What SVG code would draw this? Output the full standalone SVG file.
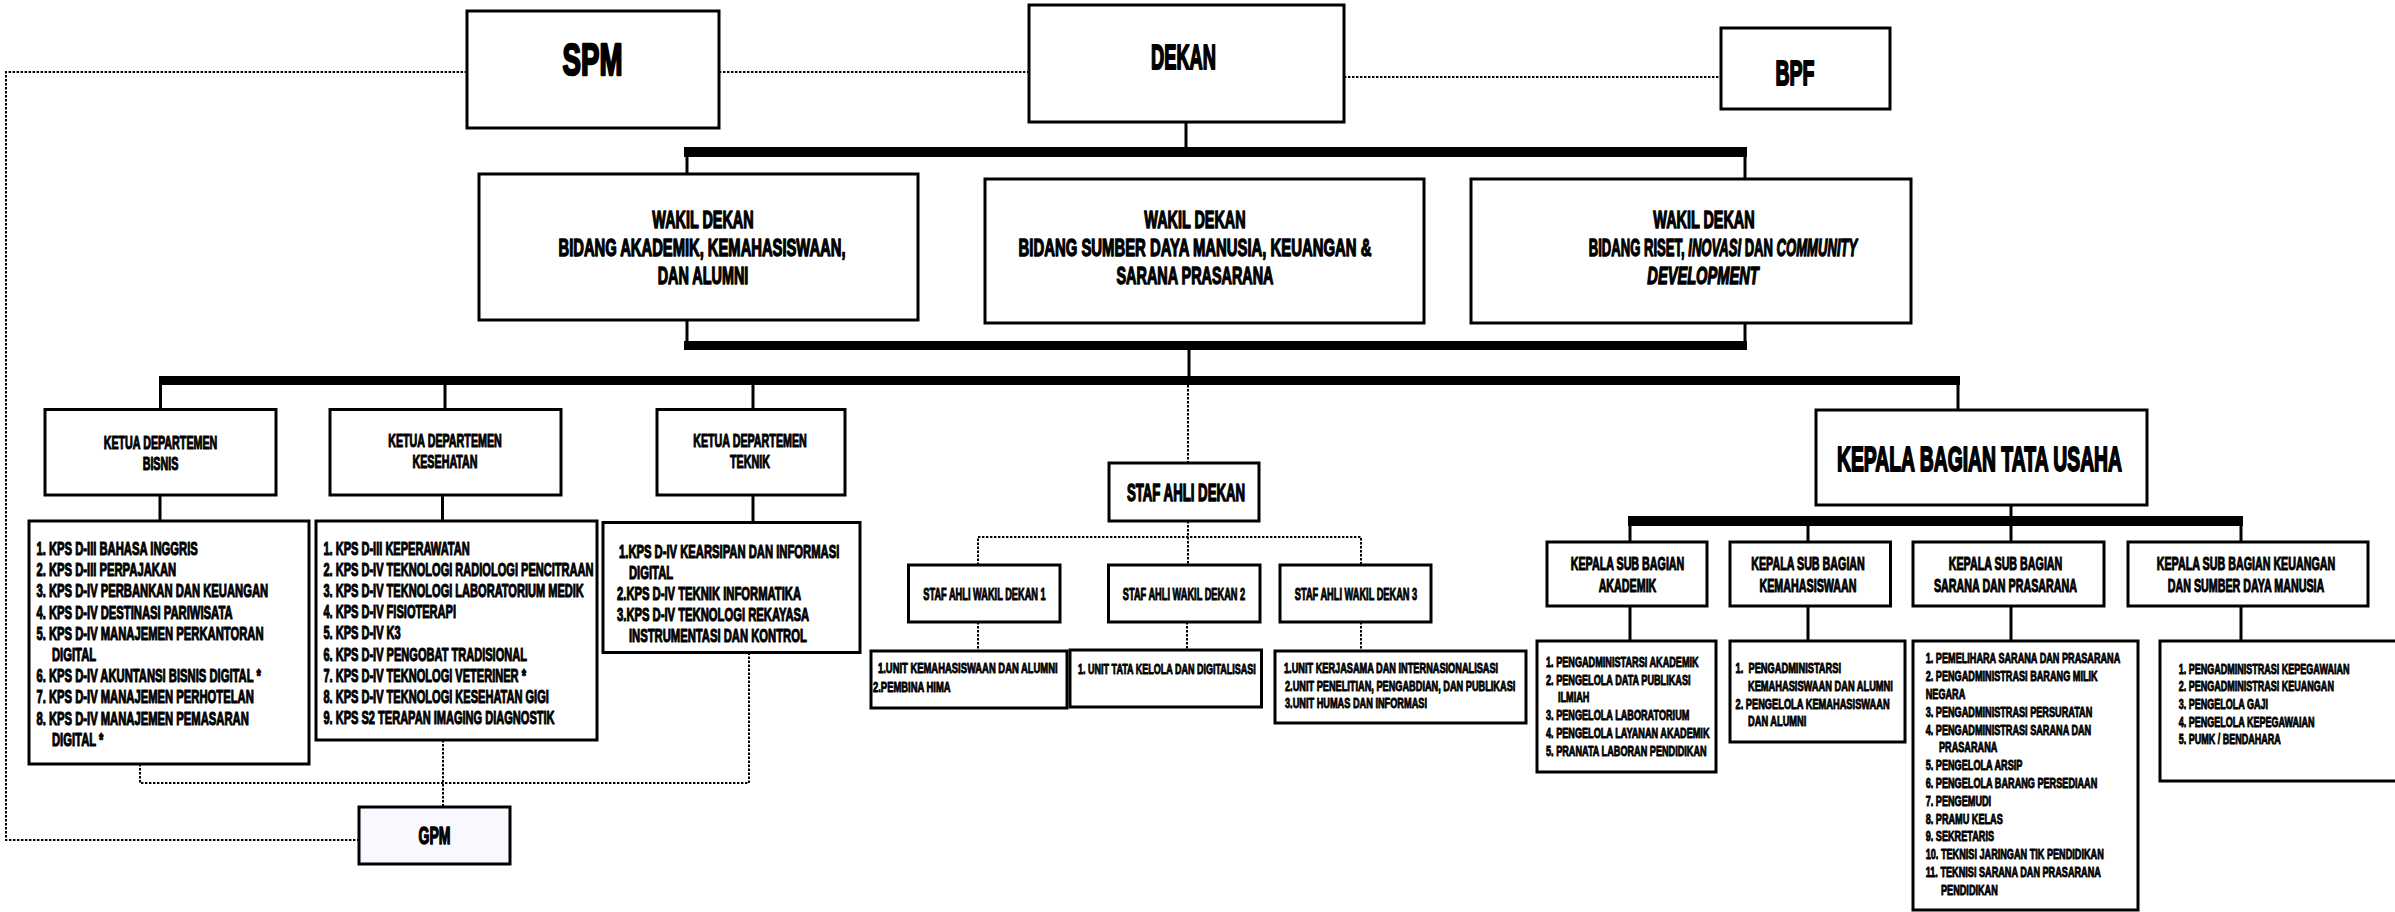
<svg xmlns="http://www.w3.org/2000/svg" width="2395" height="912" viewBox="0 0 2395 912">
<style>
.box{fill:#fff;stroke:#000;stroke-width:3}
.t{font-family:"Liberation Sans",Arial,sans-serif;font-weight:bold;fill:#000;stroke:#000;stroke-linejoin:round}
.m{text-anchor:middle}
.dot{fill:none;stroke:#000;stroke-width:2;stroke-dasharray:2.4 1.6}
.ln{fill:none;stroke:#000;stroke-width:3}
.bar{fill:#000}
.i{font-style:italic}
</style>
<rect width="2395" height="912" fill="#fff"/>
<g id="connectors">
<rect class="bar" x="684" y="147" width="1063" height="10"/>
<rect class="bar" x="684" y="341" width="1063" height="9"/>
<rect class="bar" x="159" y="376" width="1801" height="9"/>
<rect class="bar" x="1628" y="516" width="615" height="10"/>
<path class="ln" d="M1186 122V147M687 157V174M1745 157V179M687 320V341M1745 323V341M1189 350V376M160.5 385V409.5M445 385V409.5M753 385V409.5M1958 385V410M160 495V521M442.5 495V521M753 495V522.5M2011 505V516M1630 526V542M1808 526V542M2011 526V542M2241 526V542M1630 606V641M1808 606V641M2011 606V641M2241 606V641"/>
<path class="dot" d="M467 72H6V840H359M719 72H1029M1344 77H1721M1188 385V463M1188 521V565M978 565V537H1361V565M978 622V651M1187 622V650M1361 622V651M140 764V783H749V652M443 740V807"/>
</g>
<g id="spm"><rect class="box" x="467" y="11" width="252" height="117"/>
<text class="t m" font-size="43.5" stroke-width="2.4" transform="translate(592.5,75) scale(0.636,1)">SPM</text></g>
<g id="dekan"><rect class="box" x="1029" y="5" width="315" height="117"/>
<text class="t m" font-size="34.8" stroke-width="2" transform="translate(1183.5,69) scale(0.525,1)">DEKAN</text></g>
<g id="bpf"><rect class="box" x="1721" y="28" width="169" height="81"/>
<text class="t m" font-size="34.8" stroke-width="2" transform="translate(1795,85) scale(0.56,1)">BPF</text></g>
<g id="wd1"><rect class="box" x="479" y="174" width="439" height="146"/>
<g class="t m" font-size="24" stroke-width="1.4">
<text transform="translate(703,227.7) scale(0.6,1)">WAKIL DEKAN</text>
<text transform="translate(702,256) scale(0.615,1)">BIDANG AKADEMIK, KEMAHASISWAAN,</text>
<text transform="translate(703,284.3) scale(0.6,1)">DAN ALUMNI</text></g></g>
<g id="wd2"><rect class="box" x="985" y="179" width="439" height="144"/>
<g class="t m" font-size="24" stroke-width="1.4">
<text transform="translate(1195,227.7) scale(0.6,1)">WAKIL DEKAN</text>
<text transform="translate(1195,256) scale(0.62,1)">BIDANG SUMBER DAYA MANUSIA, KEUANGAN &amp;</text>
<text transform="translate(1195,284.3) scale(0.6,1)">SARANA PRASARANA</text></g></g>
<g id="wd3"><rect class="box" x="1471" y="179" width="440" height="144"/>
<g class="t m" font-size="24" stroke-width="1.4">
<text transform="translate(1704,227.7) scale(0.6,1)">WAKIL DEKAN</text>
<text transform="translate(1723,256) scale(0.545,1)">BIDANG RISET, <tspan class="i">INOVASI</tspan> DAN <tspan class="i">COMMUNITY</tspan></text>
<text class="i" transform="translate(1703,284.3) scale(0.61,1)">DEVELOPMENT</text></g></g>
<g id="ketua-bisnis"><rect class="box" x="45" y="409.5" width="231" height="85.5"/>
<g class="t m" font-size="18.8" stroke-width="1.1">
<text transform="translate(160.5,449) scale(0.57,1)">KETUA DEPARTEMEN</text>
<text transform="translate(160.5,470) scale(0.57,1)">BISNIS</text></g></g>
<g id="ketua-kesehatan"><rect class="box" x="330" y="409.5" width="231" height="85.5"/>
<g class="t m" font-size="18.8" stroke-width="1.1">
<text transform="translate(445,447) scale(0.57,1)">KETUA DEPARTEMEN</text>
<text transform="translate(445,468) scale(0.57,1)">KESEHATAN</text></g></g>
<g id="ketua-teknik"><rect class="box" x="657" y="409.5" width="188" height="85.5"/>
<g class="t m" font-size="18.8" stroke-width="1.1">
<text transform="translate(750,447) scale(0.57,1)">KETUA DEPARTEMEN</text>
<text transform="translate(750,468) scale(0.57,1)">TEKNIK</text></g></g>
<g id="prodi-bisnis"><rect class="box" x="29" y="521" width="280" height="243"/>
<g class="t" font-size="18.9" stroke-width="1.1">
<text transform="translate(36.4,555) scale(0.595,1)">1. KPS D-III BAHASA INGGRIS</text>
<text transform="translate(36.4,576) scale(0.595,1)">2. KPS D-III PERPAJAKAN</text>
<text transform="translate(36.4,597) scale(0.595,1)">3. KPS D-IV PERBANKAN DAN KEUANGAN</text>
<text transform="translate(36.4,618.5) scale(0.595,1)">4. KPS D-IV DESTINASI PARIWISATA</text>
<text transform="translate(36.4,640) scale(0.595,1)">5. KPS D-IV MANAJEMEN PERKANTORAN</text>
<text transform="translate(52,661) scale(0.595,1)">DIGITAL</text>
<text transform="translate(36.4,682) scale(0.595,1)">6. KPS D-IV AKUNTANSI BISNIS DIGITAL *</text>
<text transform="translate(36.4,703) scale(0.595,1)">7. KPS D-IV MANAJEMEN PERHOTELAN</text>
<text transform="translate(36.4,724.5) scale(0.595,1)">8. KPS D-IV MANAJEMEN PEMASARAN</text>
<text transform="translate(52,745.5) scale(0.595,1)">DIGITAL *</text></g></g>
<g id="prodi-kesehatan"><rect class="box" x="316" y="521" width="281" height="219"/>
<g class="t" font-size="18.9" stroke-width="1.1">
<text transform="translate(323.4,555) scale(0.585,1)">1. KPS D-III KEPERAWATAN</text>
<text transform="translate(323.4,576) scale(0.585,1)">2. KPS D-IV TEKNOLOGI RADIOLOGI PENCITRAAN</text>
<text transform="translate(323.4,597) scale(0.585,1)">3. KPS D-IV TEKNOLOGI LABORATORIUM MEDIK</text>
<text transform="translate(323.4,618.2) scale(0.585,1)">4. KPS D-IV FISIOTERAPI</text>
<text transform="translate(323.4,639.4) scale(0.585,1)">5. KPS D-IV K3</text>
<text transform="translate(323.4,660.6) scale(0.585,1)">6. KPS D-IV PENGOBAT TRADISIONAL</text>
<text transform="translate(323.4,681.8) scale(0.585,1)">7. KPS D-IV TEKNOLOGI VETERINER *</text>
<text transform="translate(323.4,703) scale(0.585,1)">8. KPS D-IV TEKNOLOGI KESEHATAN GIGI</text>
<text transform="translate(323.4,724.2) scale(0.585,1)">9. KPS S2 TERAPAN IMAGING DIAGNOSTIK</text></g></g>
<g id="prodi-teknik"><rect class="box" x="603" y="522.5" width="257" height="130"/>
<g class="t" font-size="18.9" stroke-width="1.1">
<text transform="translate(619,557.5) scale(0.595,1)">1.KPS D-IV KEARSIPAN DAN INFORMASI</text>
<text transform="translate(629,578.5) scale(0.595,1)">DIGITAL</text>
<text transform="translate(617,600) scale(0.595,1)">2.KPS D-IV TEKNIK INFORMATIKA</text>
<text transform="translate(617,621) scale(0.595,1)">3.KPS D-IV TEKNOLOGI REKAYASA</text>
<text transform="translate(629,642) scale(0.595,1)">INSTRUMENTASI DAN KONTROL</text></g></g>
<g id="gpm"><rect class="box" x="359" y="807" width="151" height="57" style="fill:#f8f8fe"/>
<text class="t m" font-size="23.2" stroke-width="1.4" transform="translate(434.5,844) scale(0.605,1)">GPM</text></g>
<g id="staf-ahli-dekan"><rect class="box" x="1109" y="463" width="150" height="58"/>
<text class="t m" font-size="23" stroke-width="1.4" transform="translate(1186,500.5) scale(0.575,1)">STAF AHLI DEKAN</text></g>
<g id="staf-wd1"><rect class="box" x="908.5" y="565" width="151.5" height="57"/>
<text class="t m" font-size="16.5" stroke-width="1" transform="translate(984.5,600) scale(0.56,1)">STAF AHLI WAKIL DEKAN 1</text></g>
<g id="staf-wd2"><rect class="box" x="1108.5" y="565" width="151.5" height="57"/>
<text class="t m" font-size="16.5" stroke-width="1" transform="translate(1184,600) scale(0.56,1)">STAF AHLI WAKIL DEKAN 2</text></g>
<g id="staf-wd3"><rect class="box" x="1280" y="565" width="151" height="57"/>
<text class="t m" font-size="16.5" stroke-width="1" transform="translate(1356,600) scale(0.56,1)">STAF AHLI WAKIL DEKAN 3</text></g>
<g id="unit-wd1"><rect class="box" x="871" y="651" width="196" height="57"/>
<g class="t" font-size="14.5" stroke-width="0.9">
<text transform="translate(878,673) scale(0.65,1)">1.UNIT KEMAHASISWAAN DAN ALUMNI</text>
<text transform="translate(873,692) scale(0.65,1)">2.PEMBINA HIMA</text></g></g>
<g id="unit-wd2"><rect class="box" x="1070" y="650" width="191.5" height="57"/>
<text class="t" font-size="14.5" stroke-width="0.9" transform="translate(1078,674) scale(0.622,1)">1. UNIT TATA KELOLA DAN DIGITALISASI</text></g>
<g id="unit-wd3"><rect class="box" x="1275" y="651" width="251" height="72"/>
<g class="t" font-size="14.5" stroke-width="0.9">
<text transform="translate(1284,673) scale(0.635,1)">1.UNIT KERJASAMA DAN INTERNASIONALISASI</text>
<text transform="translate(1285,691) scale(0.635,1)">2.UNIT PENELITIAN, PENGABDIAN, DAN PUBLIKASI</text>
<text transform="translate(1285,708) scale(0.635,1)">3.UNIT HUMAS DAN INFORMASI</text></g></g>
<g id="kabag-tu"><rect class="box" x="1816" y="410" width="331" height="95"/>
<text class="t m" font-size="35.5" stroke-width="2" transform="translate(1979.5,471) scale(0.545,1)">KEPALA BAGIAN TATA USAHA</text></g>
<g id="subbag-akademik"><rect class="box" x="1547" y="542" width="160" height="64"/>
<g class="t m" font-size="18.8" stroke-width="1.1">
<text transform="translate(1627.5,570) scale(0.57,1)">KEPALA SUB BAGIAN</text>
<text transform="translate(1627.5,592) scale(0.57,1)">AKADEMIK</text></g></g>
<g id="subbag-kemahasiswaan"><rect class="box" x="1730" y="542" width="160.5" height="64"/>
<g class="t m" font-size="18.8" stroke-width="1.1">
<text transform="translate(1808,570) scale(0.57,1)">KEPALA SUB BAGIAN</text>
<text transform="translate(1808,592) scale(0.57,1)">KEMAHASISWAAN</text></g></g>
<g id="subbag-sarana"><rect class="box" x="1913" y="542" width="191" height="64"/>
<g class="t m" font-size="18.8" stroke-width="1.1">
<text transform="translate(2005.5,570) scale(0.57,1)">KEPALA SUB BAGIAN</text>
<text transform="translate(2005.5,592) scale(0.57,1)">SARANA DAN PRASARANA</text></g></g>
<g id="subbag-keuangan"><rect class="box" x="2128" y="542" width="240" height="64"/>
<g class="t m" font-size="18.8" stroke-width="1.1">
<text transform="translate(2246,570) scale(0.57,1)">KEPALA SUB BAGIAN KEUANGAN</text>
<text transform="translate(2246,592) scale(0.57,1)">DAN SUMBER DAYA MANUSIA</text></g></g>
<g id="staf-akademik"><rect class="box" x="1537" y="641" width="179" height="131"/>
<g class="t" font-size="14.5" stroke-width="0.9">
<text transform="translate(1546,666.7) scale(0.63,1)">1. PENGADMINISTARSI AKADEMIK</text>
<text transform="translate(1546,684.5) scale(0.63,1)">2. PENGELOLA DATA PUBLIKASI</text>
<text transform="translate(1558,702.3) scale(0.63,1)">ILMIAH</text>
<text transform="translate(1546,720.1) scale(0.63,1)">3. PENGELOLA LABORATORIUM</text>
<text transform="translate(1546,737.9) scale(0.63,1)">4. PENGELOLA LAYANAN AKADEMIK</text>
<text transform="translate(1546,755.7) scale(0.63,1)">5. PRANATA LABORAN PENDIDIKAN</text></g></g>
<g id="staf-kemahasiswaan"><rect class="box" x="1730" y="641" width="175" height="101"/>
<g class="t" font-size="14.5" stroke-width="0.9">
<text transform="translate(1735.5,673) scale(0.64,1)">1.</text>
<text transform="translate(1748.5,673) scale(0.64,1)">PENGADMINISTARSI</text>
<text transform="translate(1748,690.8) scale(0.64,1)">KEMAHASISWAAN DAN ALUMNI</text>
<text transform="translate(1735.5,708.6) scale(0.64,1)">2. PENGELOLA KEMAHASISWAAN</text>
<text transform="translate(1748,726.4) scale(0.64,1)">DAN ALUMNI</text></g></g>
<g id="staf-sarana"><rect class="box" x="1913" y="641" width="225" height="269"/>
<g class="t" font-size="14.5" stroke-width="0.9">
<text transform="translate(1925.7,663.3) scale(0.63,1)">1. PEMELIHARA SARANA DAN PRASARANA</text>
<text transform="translate(1925.7,681.1) scale(0.63,1)">2. PENGADMINISTRASI BARANG MILIK</text>
<text transform="translate(1925.7,698.9) scale(0.63,1)">NEGARA</text>
<text transform="translate(1925.7,716.7) scale(0.63,1)">3. PENGADMINISTRASI PERSURATAN</text>
<text transform="translate(1925.7,734.5) scale(0.63,1)">4. PENGADMINISTRASI SARANA DAN</text>
<text transform="translate(1939,752.3) scale(0.63,1)">PRASARANA</text>
<text transform="translate(1925.7,770.1) scale(0.63,1)">5. PENGELOLA ARSIP</text>
<text transform="translate(1925.7,787.9) scale(0.63,1)">6. PENGELOLA BARANG PERSEDIAAN</text>
<text transform="translate(1925.7,805.7) scale(0.63,1)">7. PENGEMUDI</text>
<text transform="translate(1925.7,823.5) scale(0.63,1)">8. PRAMU KELAS</text>
<text transform="translate(1925.7,841.3) scale(0.63,1)">9. SEKRETARIS</text>
<text transform="translate(1925.7,859.1) scale(0.63,1)">10. TEKNISI JARINGAN TIK PENDIDIKAN</text>
<text transform="translate(1925.7,876.9) scale(0.63,1)">11. TEKNISI SARANA DAN PRASARANA</text>
<text transform="translate(1941,894.7) scale(0.63,1)">PENDIDIKAN</text></g></g>
<g id="staf-keuangan"><rect class="box" x="2160" y="641" width="245" height="140"/>
<g class="t" font-size="14.5" stroke-width="0.9">
<text transform="translate(2178.7,673.5) scale(0.622,1)">1. PENGADMINISTRASI KEPEGAWAIAN</text>
<text transform="translate(2178.7,691.2) scale(0.622,1)">2. PENGADMINISTRASI KEUANGAN</text>
<text transform="translate(2178.7,708.9) scale(0.622,1)">3. PENGELOLA GAJI</text>
<text transform="translate(2178.7,726.6) scale(0.622,1)">4. PENGELOLA KEPEGAWAIAN</text>
<text transform="translate(2178.7,744.3) scale(0.622,1)">5. PUMK / BENDAHARA</text></g></g>
</svg>
